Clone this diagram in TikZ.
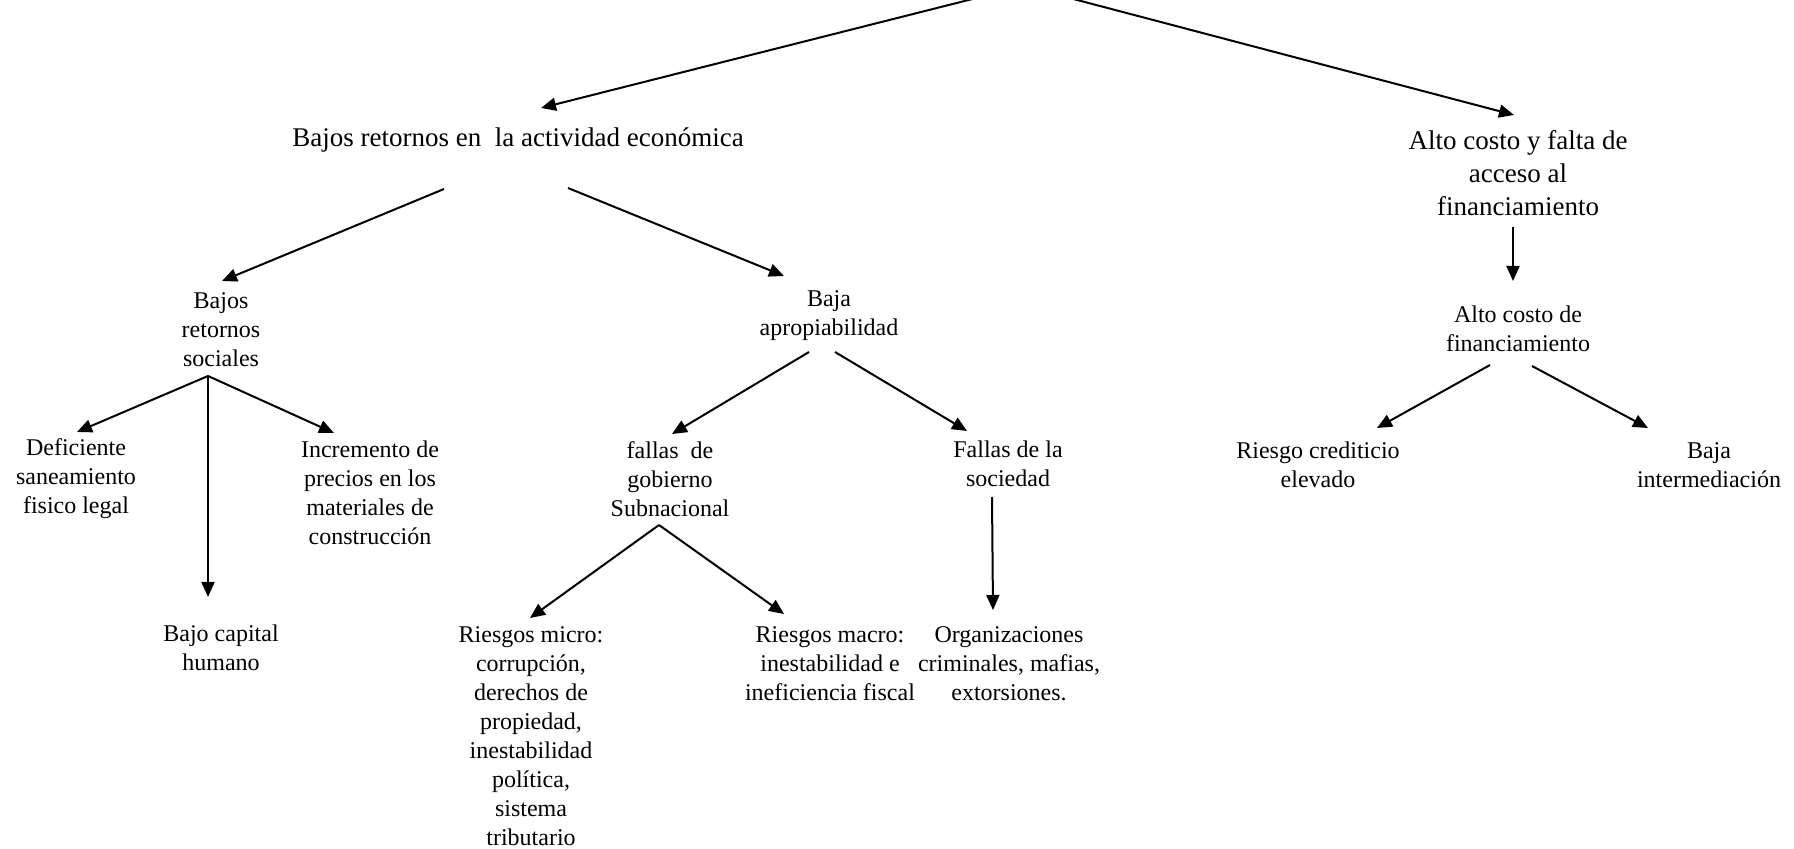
\documentclass[tikz,border=0pt]{standalone}
\usepackage{fontspec}
\setmainfont{Liberation Serif}
\usetikzlibrary{arrows.meta}
\begin{document}
\begin{tikzpicture}[x=0.5pt,y=-0.5pt,
  lbl/.style={align=center, inner sep=0pt, font=\fontsize{12}{14.5}\selectfont},
  big/.style={align=center, inner sep=0pt, font=\fontsize{13.5}{16.5}\selectfont},
  arr/.style={-{Triangle[length=7.5pt,width=6.5pt]}, line width=1pt}]
\useasboundingbox (0,0) rectangle (1794,849);

\coordinate (root) at (1024,-14);
\node[big] (A) at (518,140) {Bajos retornos en\ \ la actividad económica};
\node[big] (B) at (1518,173) {Alto costo y falta de\\acceso al\\financiamiento};
\node[lbl] (C) at (221,330) {Bajos\\retornos\\sociales};
\node[lbl] (D) at (829,316) {Baja\\apropiabilidad};
\node[lbl] (E) at (1518,329) {Alto costo de\\financiamiento};
\node[lbl] (F) at (76,479) {Deficiente\\saneamiento\\fisico legal};
\node[lbl] (G) at (221,648) {Bajo capital\\humano};
\node[lbl] (H) at (370,493) {Incremento de\\precios en los\\materiales de\\construcción};
\node[lbl] (I) at (670,479) {fallas\ \ de\\gobierno\\Subnacional};
\node[lbl] (J) at (1008,464) {Fallas de la\\sociedad};
\node[lbl] (K) at (531,736) {Riesgos micro:\\corrupción,\\derechos de\\propiedad,\\inestabilidad\\política,\\sistema\\tributario};
\node[lbl] (L) at (830,664) {Riesgos macro:\\inestabilidad e\\ineficiencia fiscal};
\node[lbl] (M) at (1009,664) {Organizaciones\\criminales, mafias,\\extorsiones.};
\node[lbl] (N) at (1318,465) {Riesgo crediticio\\elevado};
\node[lbl] (O) at (1709,465) {Baja\\intermediación};

\draw[arr] (root) -- ([shift={(23,-32)}]A.center);
\draw[arr] (root) -- ([shift={(-4,-58)}]B.center);
\draw[arr] ([shift={(-74,49)}]A.center) -- ([shift={(1,-49)}]C.center);
\draw[arr] ([shift={(50,48)}]A.center) -- ([shift={(-45,-40)}]D.center);
\draw[arr] ([shift={(-5,54)}]B.center) -- ([shift={(-5,-48)}]E.center);
\draw[arr] ([shift={(-13,46)}]C.center) -- ([shift={(1,-47)}]F.center);
\draw[arr] ([shift={(-13,46)}]C.center) -- ([shift={(-13,-51)}]G.center);
\draw[arr] ([shift={(-13,46)}]C.center) -- ([shift={(-36,-60)}]H.center);
\draw[arr] ([shift={(-20,36)}]D.center) -- ([shift={(2,-45)}]I.center);
\draw[arr] ([shift={(6,36)}]D.center) -- ([shift={(-41,-33)}]J.center);
\draw[arr] ([shift={(-11,46)}]I.center) -- ([shift={(-1,-118)}]K.center);
\draw[arr] ([shift={(-11,46)}]I.center) -- ([shift={(-46,-50)}]L.center);
\draw[arr] ([shift={(-16,33)}]J.center) -- ([shift={(-16,-54)}]M.center);
\draw[arr] ([shift={(-28,36)}]E.center) -- ([shift={(59,-37)}]N.center);
\draw[arr] ([shift={(14,37)}]E.center) -- ([shift={(-61,-37)}]O.center);
\end{tikzpicture}
\end{document}
